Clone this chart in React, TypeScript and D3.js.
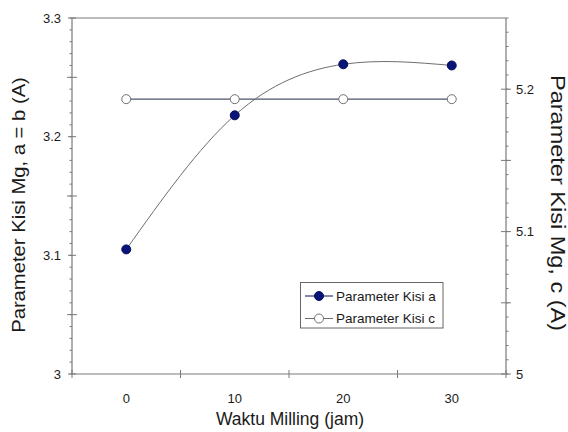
import React from "react";
import * as d3 from "d3";

const hours = [0, 10, 20, 30];
const kisiA = [3.105, 3.218, 3.261, 3.26];
const kisiC = [5.193, 5.193, 5.193, 5.193];
const xTickLabels = ["0", "10", "20", "30"];
const leftTicks = [3, 3.1, 3.2, 3.3];
const rightTicks = [5, 5.1, 5.2];
const legendLabels = ["Parameter Kisi a", "Parameter Kisi c"];

const W = 568, H = 432;
const L = 72, R = 506, T = 18, B = 374;
const FONT = "'Liberation Sans', Arial, sans-serif";
const AXIS = "#7a7a7a";
const TEXT = "#1a1a1a";

export default function App() {
  const x = d3.scaleLinear().domain([-5, 35]).range([L, R]);
  const yL = d3.scaleLinear().domain([3, 3.3]).range([B, T]);
  const yR = d3.scaleLinear().domain([5, 5.25]).range([B, T]);

  const lineA = d3.line<number>().x((_, i) => x(hours[i])).y((d) => yL(d)).curve(d3.curveNatural);
  const lineC = d3.line<number>().x((_, i) => x(hours[i])).y((d) => yR(d));

  const leftMinor = yL.ticks(30);
  const leftMid = yL.ticks(6).filter((v) => !leftTicks.some((t) => Math.abs(t - v) < 1e-6));
  const rightMinor = yR.ticks(25);
  const rightMid = yR.ticks(5).filter((v) => !rightTicks.some((t) => Math.abs(t - v) < 1e-6) && v < 5.249);
  const xTickPos = [-5, 5, 15, 25, 35];

  return (
    <svg width={W} height={H} style={{ position: "absolute", left: 0, top: 0, background: "#fff" }} fontFamily={FONT}>
      <rect x={0} y={0} width={W} height={H} fill="#fff" />
      {/* frame */}
      <line x1={L} x2={R} y1={T} y2={T} stroke={AXIS} strokeWidth={1.2} />
      <line x1={L} x2={R} y1={B} y2={B} stroke={AXIS} strokeWidth={1.2} />
      <line x1={L} x2={L} y1={T} y2={B} stroke={AXIS} strokeWidth={1.2} />
      <line x1={R} x2={R} y1={T} y2={B} stroke={AXIS} strokeWidth={1.2} />

      {/* left ticks */}
      {leftMinor.map((v, i) => (
        <line key={"lm" + i} x1={L - 2.5} x2={L} y1={yL(v)} y2={yL(v)} stroke={AXIS} />
      ))}
      {leftMid.map((v, i) => (
        <line key={"ld" + i} x1={L - 5} x2={L + 5} y1={yL(v)} y2={yL(v)} stroke={AXIS} />
      ))}
      {leftTicks.map((v, i) => (
        <g key={"lt" + i}>
          <line x1={L - 4} x2={L + 4} y1={yL(v)} y2={yL(v)} stroke={AXIS} />
          <text x={61} y={yL(v)} dy="0.35em" textAnchor="end" fontSize={13} fill={TEXT}>
            {String(v)}
          </text>
        </g>
      ))}

      {/* right ticks */}
      {rightMinor.map((v, i) => (
        <line key={"rm" + i} x1={R} x2={R + 2.5} y1={yR(v)} y2={yR(v)} stroke={AXIS} />
      ))}
      {rightMid.map((v, i) => (
        <line key={"rd" + i} x1={R - 5} x2={R + 5} y1={yR(v)} y2={yR(v)} stroke={AXIS} />
      ))}
      {rightTicks.map((v, i) => (
        <g key={"rt" + i}>
          <line x1={R - 5} x2={R + 5} y1={yR(v)} y2={yR(v)} stroke={AXIS} />
          <text x={516} y={yR(v)} dy="0.35em" textAnchor="start" fontSize={13} fill={TEXT}>
            {String(v)}
          </text>
        </g>
      ))}

      {/* x ticks */}
      {xTickPos.map((v, i) => (
        <line key={"xt" + i} x1={x(v)} x2={x(v)} y1={B - 4} y2={B + 4} stroke={AXIS} />
      ))}
      {hours.map((h, i) => (
        <text key={"xl" + i} x={x(h)} y={398} dy="0.35em" textAnchor="middle" fontSize={13} fill={TEXT}>
          {xTickLabels[i]}
        </text>
      ))}

      {/* titles */}
      <text x={290} y={419} dy="0.35em" textAnchor="middle" fontSize={17.5} fill={TEXT}>
        Waktu Milling (jam)
      </text>
      <text transform="translate(19,205) rotate(-90) scale(1.1,1)" dy="0.35em" textAnchor="middle" fontSize={18.4} fill={TEXT}>
        Parameter Kisi Mg, a = b (A)
      </text>
      <text transform="translate(558,203) rotate(90) scale(1.12,1)" dy="0.35em" textAnchor="middle" fontSize={21} fill={TEXT}>
        Parameter Kisi Mg, c (A)
      </text>

      {/* series c */}
      <path d={lineC(kisiC) || ""} fill="none" stroke="#4b5468" strokeWidth={1.1} />
      {/* series a */}
      <path d={lineA(kisiA) || ""} fill="none" stroke="#6e6e6e" strokeWidth={1} />
      {kisiC.map((v, i) => (
        <circle key={"cc" + i} cx={x(hours[i])} cy={yR(v)} r={4.5} fill="#fff" stroke="#707070" strokeWidth={1} />
      ))}
      {kisiA.map((v, i) => (
        <circle key={"ca" + i} cx={x(hours[i])} cy={yL(v)} r={4.5} fill="#0a1478" stroke="#08105a" strokeWidth={1} />
      ))}

      {/* legend */}
      <rect x={300.5} y={282.5} width={142.5} height={45.5} fill="#fff" stroke="#666" strokeWidth={1} />
      {legendLabels.map((lab, i) => {
        const cy = 296 + i * 22.5;
        return (
          <g key={"lg" + i}>
            <line x1={305} x2={333} y1={cy} y2={cy} stroke={i === 0 ? "#08105a" : "#6e6e6e"} strokeWidth={1} />
            {i === 0 ? (
              <circle cx={319} cy={cy} r={4.5} fill="#0a1478" stroke="#08105a" />
            ) : (
              <circle cx={319} cy={cy} r={4.5} fill="#fff" stroke="#707070" />
            )}
            <text x={336} y={cy} dy="0.35em" fontSize={13.5} fill={TEXT}>
              {lab}
            </text>
          </g>
        );
      })}
    </svg>
  );
}
